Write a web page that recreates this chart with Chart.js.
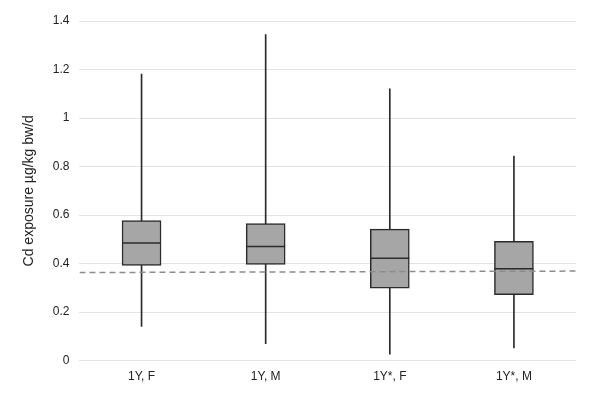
<!DOCTYPE html>
<html>
<head>
<meta charset="utf-8">
<script src="https://cdn.jsdelivr.net/npm/chart.js@4"></script>
<style>
  html, body { margin: 0; padding: 0; background: #fff; }
  #wrap { width: 597px; height: 394px; }
</style>
</head>
<body>
<div id="wrap"><canvas id="chart" width="597" height="394"></canvas></div>
<script>
// box plot values
const groups = ['1Y, F', '1Y, M', '1Y*, F', '1Y*, M'];
const whiskerLow = [0.141, 0.070, 0.027, 0.052];
const whiskerHigh = [1.181, 1.344, 1.120, 0.843];
const q1 = [0.392, 0.396, 0.299, 0.272];
const q3 = [0.577, 0.565, 0.542, 0.492];
const medians = [0.485, 0.470, 0.422, 0.379];
const refLine = [0.363, 0.369];   // dashed reference, left and right end
const yTicks = [0, 0.2, 0.4, 0.6, 0.8, 1, 1.2, 1.4];

const ctx = document.getElementById('chart').getContext('2d');
new Chart(ctx, {
    type: 'bar',
    data: {
        labels: groups,
        datasets: [
            {
                label: 'whisker',
                data: groups.map((g, i) => [whiskerLow[i], whiskerHigh[i]]),
                backgroundColor: '#2b2b2b',
                barThickness: 1,
                grouped: false,
                order: 4
            },
            {
                label: 'box',
                data: groups.map((g, i) => [q1[i], q3[i]]),
                backgroundColor: '#a6a6a6',
                borderColor: '#2b2b2b',
                borderWidth: 1.5,
                borderSkipped: false,
                barThickness: 39,
                grouped: false,
                order: 3
            },
            {
                type: 'line',
                label: 'median',
                data: medians,
                showLine: false,
                pointStyle: 'line',
                pointRadius: 19.5,
                pointBorderWidth: 1.5,
                pointBorderColor: '#2b2b2b',
                order: 2
            },
            {
                type: 'line',
                label: 'reference',
                xAxisID: 'xLine',
                data: [{ x: -0.5, y: refLine[0] }, { x: 3.5, y: refLine[1] }],
                borderColor: '#8c8c8c',
                borderWidth: 1.5,
                borderDash: [6, 4],
                pointRadius: 0,
                order: 1
            }
        ]
    },
    options: {
        responsive: false,
        animation: false,
        layout: { padding: { top: 13, right: 20, bottom: 1, left: 21 } },
        plugins: {
            legend: { display: false },
            tooltip: { enabled: false }
        },
        scales: {
            x: {
                grid: { display: false, drawTicks: false },
                border: { display: false },
                ticks: {
                    color: '#222',
                    font: { family: 'Liberation Sans, Arial', size: 12 },
                    padding: 9
                }
            },
            xLine: {
                type: 'linear',
                display: false,
                offset: false,
                min: -0.5,
                max: 3.5
            },
            y: {
                min: 0,
                max: 1.4,
                afterBuildTicks: axis => { axis.ticks = yTicks.map(v => ({ value: v })); },
                grid: { color: '#e3e3e3', lineWidth: 1, drawTicks: false },
                border: { display: false },
                ticks: {
                    color: '#222',
                    font: { family: 'Liberation Sans, Arial', size: 12 },
                    padding: 10,
                    callback: v => String(v)
                },
                title: {
                    display: true,
                    text: 'Cd exposure µg/kg bw/d',
                    color: '#222',
                    font: { family: 'Liberation Sans, Arial', size: 14 },
                    padding: { top: 0, bottom: 5 }
                }
            }
        }
    }
});
</script>
</body>
</html>
